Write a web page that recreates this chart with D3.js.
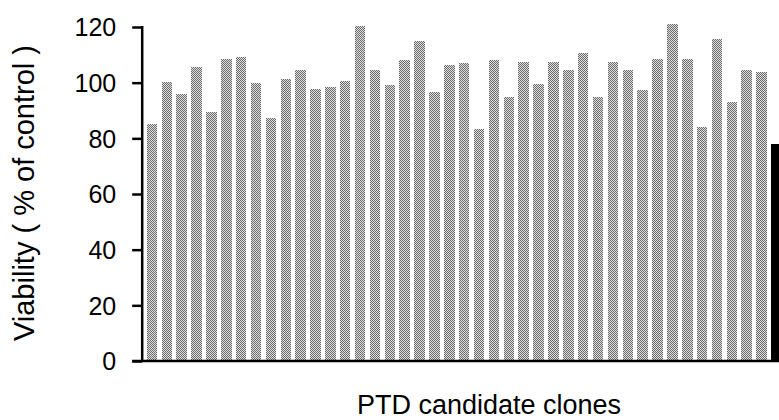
<!DOCTYPE html>
<html>
<head>
<meta charset="utf-8">
<script src="https://cdn.jsdelivr.net/npm/d3@7/dist/d3.min.js"></script>
<style>
  html, body { margin: 0; padding: 0; background: #fff; }
  svg { display: block; }
  text { font-family: "Liberation Sans", Arial, Helvetica, sans-serif; fill: #000; }
</style>
</head>
<body>
<svg id="chart" width="779" height="420"></svg>
<script>
// Viability of each PTD candidate clone, % of untreated control
const cloneViability = [
  85, 100.4, 95.9, 105.5, 89.6, 108.5, 109.2, 99.8, 87.3, 101.2,
  104.5, 97.8, 98.4, 100.6, 120.3, 104.7, 99.2, 108, 114.9, 96.8,
  106.3, 107.1, 83.2, 108.1, 94.7, 107.4, 99.7, 107.4, 104.5, 110.7,
  94.8, 107.6, 104.5, 97.3, 108.6, 120.9, 108.6, 84, 115.6, 92.9,
  104.7, 103.9
];
// Reference treatment shown as the last (solid) bar
const controlLabel = ["reference"];
const controlViability = [78.1];

const yTicks = [0, 20, 40, 60, 80, 100, 120];
const yLabel = "Viability ( % of control )";
const xLabel = "PTD candidate clones";

const categories = cloneViability.map((_, i) => "clone " + (i + 1)).concat(controlLabel);
const rows = categories.map((c, i) => ({
  id: c,
  value: i < cloneViability.length ? cloneViability[i] : controlViability[i - cloneViability.length],
  control: i >= cloneViability.length
}));

const svg = d3.select("#chart");
const axisX = 142.2;

const x = d3.scaleBand()
  .domain(categories)
  .range([144.5, 144.5 + categories.length * 14.87])
  .paddingInner(0.294)
  .paddingOuter(0.147);

const y = d3.scaleLinear().domain([0, 120]).range([361, 27]);

// Halftone-like stipple fill for the clone bars
const defs = svg.append("defs");
const pat = defs.append("pattern")
  .attr("id", "stipple")
  .attr("patternUnits", "userSpaceOnUse")
  .attr("width", 2).attr("height", 2);
pat.append("rect").attr("width", 2).attr("height", 2).attr("fill", "#e0e0e0");
pat.append("rect").attr("x", 0).attr("y", 0).attr("width", 1).attr("height", 1).attr("fill", "#6a6a6a");
pat.append("rect").attr("x", 1).attr("y", 1).attr("width", 1).attr("height", 1).attr("fill", "#6a6a6a");

svg.append("g")
  .attr("shape-rendering", "crispEdges")
  .selectAll("rect")
  .data(rows)
  .join("rect")
  .attr("x", d => x(d.id))
  .attr("y", d => y(d.value))
  .attr("width", x.bandwidth())
  .attr("height", d => y(0) - y(d.value))
  .attr("fill", d => d.control ? "#000" : "url(#stipple)");

// Y axis
const yAxis = d3.axisLeft(y)
  .tickValues(yTicks)
  .tickSize(10)
  .tickPadding(16)
  .tickFormat(d3.format("d"));

const gy = svg.append("g")
  .attr("transform", `translate(${axisX},0)`)
  .call(yAxis);
gy.select(".domain").remove();
gy.selectAll(".tick line").attr("stroke", "#000").attr("stroke-width", 2.5);
gy.selectAll(".tick text")
  .attr("font-size", 25)
  .attr("dy", "0.35em")
  .style("font-family", '"Liberation Sans", Arial, sans-serif');

gy.append("line")
  .attr("x1", 0).attr("x2", 0)
  .attr("y1", y(120) - 1).attr("y2", y(0))
  .attr("stroke", "#000").attr("stroke-width", 2.5);

// Baseline
svg.append("line")
  .attr("x1", axisX - 10).attr("x2", 779)
  .attr("y1", y(0)).attr("y2", y(0))
  .attr("stroke", "#000").attr("stroke-width", 2.5);

// Axis titles
svg.append("text")
  .attr("transform", `translate(34,193) rotate(-90)`)
  .attr("text-anchor", "middle")
  .attr("font-size", 29)
  .text(yLabel);

svg.append("text")
  .attr("x", 489)
  .attr("y", 414)
  .attr("text-anchor", "middle")
  .attr("font-size", 27)
  .text(xLabel);
</script>
</body>
</html>
